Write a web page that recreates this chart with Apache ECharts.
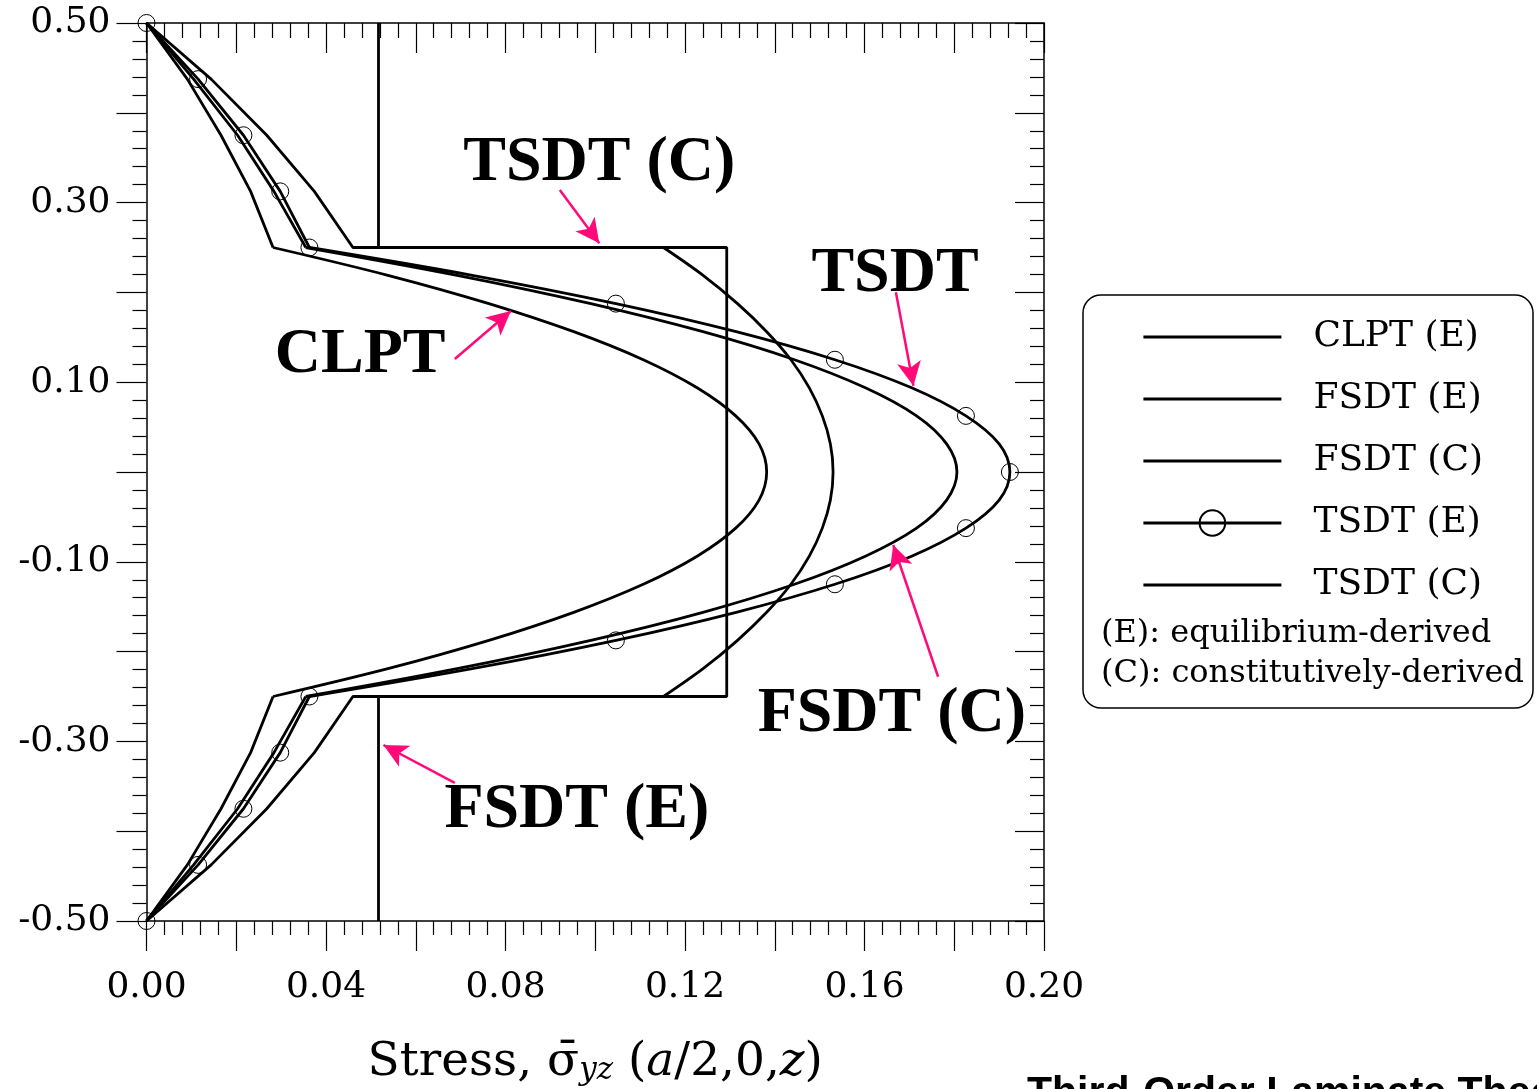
<!DOCTYPE html>
<html>
<head>
<meta charset="utf-8">
<script src="https://cdn.jsdelivr.net/npm/echarts@6/dist/echarts.min.js"></script>
<style>
html, body { margin: 0; padding: 0; background: #fff; }
#chart { width: 1537px; height: 1089px; }
</style>
</head>
<body>
<div id="chart"></div>
<script>
// thickness coordinate z: outer plies drawn as polylines, inner ply smooth
var zOuterTop = [0.5, 0.4375, 0.375, 0.3125, 0.25];
var zInner = [0.25, 0.21875, 0.1875, 0.15625, 0.125, 0.09375, 0.0625, 0.03125, 0,
  -0.03125, -0.0625, -0.09375, -0.125, -0.15625, -0.1875, -0.21875, -0.25];
var zOuterBot = [-0.25, -0.3125, -0.375, -0.4375, -0.5];

// CLPT (E)
var clptTop = [0, 0.0091, 0.0166, 0.0232, 0.0282];
var clptInner = [0.0282, 0.0540, 0.0763, 0.0952, 0.1107, 0.1227, 0.1313, 0.1365, 0.1382,
  0.1365, 0.1313, 0.1227, 0.1107, 0.0952, 0.0763, 0.0540, 0.0282];
var clptBot = [0.0282, 0.0232, 0.0166, 0.0091, 0];

// FSDT (E)
var fsdtETop = [0, 0.0105, 0.0203, 0.0284, 0.0355];
var fsdtEInner = [0.0355, 0.0695, 0.0990, 0.1240, 0.1444, 0.1602, 0.1716, 0.1783, 0.1806,
  0.1783, 0.1716, 0.1602, 0.1444, 0.1240, 0.0990, 0.0695, 0.0355];
var fsdtEBot = [0.0355, 0.0284, 0.0203, 0.0105, 0];

// FSDT (C) - piecewise constant
var zFsdtC = [0.5, 0.25, 0.25, -0.25, -0.25, -0.5];
var fsdtC = [0.0517, 0.0517, 0.1293, 0.1293, 0.0517, 0.0517];

// TSDT (E)
var tsdtETop = [0, 0.0115, 0.0216, 0.0298, 0.0363];
var tsdtEInner = [0.0363, 0.0729, 0.1046, 0.1314, 0.1534, 0.1705, 0.1826, 0.1900, 0.1924,
  0.1900, 0.1826, 0.1705, 0.1534, 0.1314, 0.1046, 0.0729, 0.0363];
var tsdtEBot = [0.0363, 0.0298, 0.0216, 0.0115, 0];

// TSDT (C)
var tsdtCTop = [0, 0.0144, 0.0268, 0.0374, 0.0460];
var tsdtCInner = [0.1152, 0.1241, 0.1317, 0.1382, 0.1436, 0.1477, 0.1506, 0.1524, 0.1530,
  0.1524, 0.1506, 0.1477, 0.1436, 0.1382, 0.1317, 0.1241, 0.1152];
var tsdtCBot = [0.0460, 0.0374, 0.0268, 0.0144, 0];

var legendNames = ['CLPT (E)', 'FSDT (E)', 'FSDT (C)', 'TSDT (E)', 'TSDT (C)'];
var legendMarked = ['TSDT (E)'];

// annotations (data coordinates)
var noteLabels = ['TSDT (C)', 'TSDT', 'CLPT', 'FSDT (C)', 'FSDT (E)'];
var noteX = [0.1009, 0.1668, 0.0476, 0.1661, 0.0959];
var noteZ = [0.3440, 0.2200, 0.1300, -0.2700, -0.3770];
var arrowFrom = [[0.0921, 0.314], [0.1670, 0.2001], [0.0687, 0.1258], [0.1764, -0.2280], [0.0687, -0.3463]];
var arrowTo = [[0.1009, 0.2547], [0.1709, 0.0961], [0.0812, 0.1793], [0.1664, -0.0813], [0.0528, -0.3040]];

var SERIF = 'DejaVu Serif';
var PINK = '#ff0a78';
var LW = 2.8;

function pairs(xs, zs) {
  return xs.map(function (x, i) { return [x, zs[i]]; });
}

function curve(name, top, inner, bot, marked) {
  var base = {
    type: 'line',
    name: name,
    symbol: marked ? 'circle' : 'none',
    symbolSize: 17,
    clip: false,
    lineStyle: { color: '#000', width: LW },
    itemStyle: { color: 'rgba(0,0,0,0)', borderColor: '#000', borderWidth: 1 },
    emphasis: { disabled: true },
    silent: true
  };
  var topData = pairs(top, zOuterTop).map(function (p) {
    return { value: p, symbol: marked ? 'circle' : 'none' };
  });
  topData.push({ value: [inner[0], zInner[0]], symbol: 'none' });

  var innerData = pairs(inner, zInner).map(function (p, i) {
    var mark = marked && i % 2 === 0 && i > 0 && i < zInner.length - 1;
    return { value: p, symbol: mark ? 'circle' : 'none' };
  });

  var botData = [{ value: [inner[inner.length - 1], zInner[zInner.length - 1]], symbol: 'none' }];
  pairs(bot, zOuterBot).forEach(function (p) {
    botData.push({ value: p, symbol: marked ? 'circle' : 'none' });
  });

  return [
    Object.assign({}, base, { data: topData }),
    Object.assign({}, base, { data: innerData, smooth: 0.35 }),
    Object.assign({}, base, { data: botData })
  ];
}

var series = []
  .concat(curve('CLPT (E)', clptTop, clptInner, clptBot, false))
  .concat(curve('FSDT (E)', fsdtETop, fsdtEInner, fsdtEBot, false))
  .concat([{
    type: 'line',
    name: 'FSDT (C)',
    symbol: 'none',
    lineStyle: { color: '#000', width: LW },
    itemStyle: { color: '#000' },
    data: pairs(fsdtC, zFsdtC),
    silent: true,
    markLine: {
      silent: true,
      symbol: ['none', 'arrow'],
      symbolSize: [18, 24],
      lineStyle: { color: PINK, width: 2.5, type: 'solid' },
      label: { show: false },
      emphasis: { disabled: true },
      data: arrowFrom.map(function (a, i) {
        return [{ coord: a }, { coord: arrowTo[i] }];
      })
    }
  }])
  .concat(curve('TSDT (E)', tsdtETop, tsdtEInner, tsdtEBot, true))
  .concat(curve('TSDT (C)', tsdtCTop, tsdtCInner, tsdtCBot, false))
  .concat([{
    type: 'scatter',
    name: 'notes',
    symbolSize: 0,
    silent: true,
    z: 5,
    itemStyle: { opacity: 1 },
    data: noteLabels.map(function (t, i) { return [noteX[i], noteZ[i], t]; }),
    label: {
      show: true,
      position: 'inside',
      formatter: function (p) { return p.data[2]; },
      fontFamily: 'Liberation Serif',
      fontWeight: 'bold',
      fontSize: 64,
      color: '#000',
      opacity: 1,
      textBorderWidth: 0
    }
  }]);

var tickStyle = { color: '#000', width: 1.2 };
var axisLineStyle = { color: '#000', width: 1.5 };

var option = {
  animation: false,
  backgroundColor: '#fff',
  grid: { left: 146.5, right: 493, top: 23, bottom: 168, containLabel: false, outerBoundsMode: 'none' },
  legend: {
    data: legendNames.map(function (n) {
      return legendMarked.indexOf(n) >= 0 ? { name: n } : { name: n, itemStyle: { opacity: 0 } };
    }),
    orient: 'vertical',
    left: 1142,
    top: 319,
    padding: 0,
    itemWidth: 138,
    itemHeight: 32,
    itemGap: 26,
    selectedMode: false,
    lineStyle: { width: LW, color: '#000' },
    textStyle: { fontFamily: SERIF, fontSize: 36, color: '#000', lineHeight: 32, padding: [0, 0, 0, 27] }
  },
  xAxis: [{
    type: 'value', min: 0, max: 0.2, interval: 0.02, position: 'bottom',
    axisLine: { onZero: false, lineStyle: axisLineStyle },
    axisTick: { inside: false, length: 30, lineStyle: tickStyle },
    minorTick: { show: true, splitNumber: 5, length: 14, lineStyle: tickStyle },
    splitLine: { show: false },
    axisLabel: {
      margin: 49, fontFamily: SERIF, fontSize: 36, color: '#000',
      formatter: function (v) { return Math.round(v * 100) % 4 === 0 ? v.toFixed(2) : ''; }
    },
    name: '{n|Stress, σ\u0304}{s|yz}{n| (}{i|a}{n|/2,0,}{i|z}{n|)}',
    nameLocation: 'middle',
    nameGap: 110,
    nameTextStyle: {
      rich: {
        n: { fontFamily: SERIF, fontSize: 47, color: '#000', lineHeight: 64 },
        i: { fontFamily: SERIF, fontSize: 47, fontStyle: 'italic', color: '#000', lineHeight: 64 },
        s: { fontFamily: SERIF, fontSize: 31, fontStyle: 'italic', color: '#000', padding: [16, 0, 0, 0] }
      }
    }
  }, {
    type: 'value', min: 0, max: 0.2, interval: 0.02, position: 'top',
    axisLine: { onZero: false, lineStyle: axisLineStyle },
    axisTick: { inside: true, length: 30, lineStyle: tickStyle },
    minorTick: { show: true, splitNumber: 5, length: 15, lineStyle: tickStyle },
    splitLine: { show: false },
    axisLabel: { show: false }
  }],
  yAxis: [{
    type: 'value', min: -0.5, max: 0.5, interval: 0.1, position: 'left',
    axisLine: { onZero: false, lineStyle: axisLineStyle },
    axisTick: { inside: false, length: 30, lineStyle: tickStyle },
    minorTick: { show: true, splitNumber: 5, length: 14, lineStyle: tickStyle },
    splitLine: { show: false },
    axisLabel: {
      margin: 36, fontFamily: SERIF, fontSize: 36, color: '#000',
      formatter: function (v) { return Math.abs(Math.round(v * 10)) % 2 === 1 ? v.toFixed(2) : ''; }
    }
  }, {
    type: 'value', min: -0.5, max: 0.5, interval: 0.1, position: 'right',
    axisLine: { onZero: false, lineStyle: axisLineStyle },
    axisTick: { inside: true, length: 29, lineStyle: tickStyle },
    minorTick: { show: true, splitNumber: 5, length: 14, lineStyle: tickStyle },
    splitLine: { show: false },
    axisLabel: { show: false }
  }],
  graphic: [
    {
      type: 'rect', z: 1,
      shape: { x: 1083, y: 295, width: 450, height: 413, r: 18 },
      style: { fill: '#fff', stroke: '#000', lineWidth: 1.5 }
    },
    {
      type: 'text', z: 2, x: 1101, y: 634,
      style: { text: '(E): equilibrium-derived', font: '32px "DejaVu Serif"', fill: '#000', verticalAlign: 'middle' }
    },
    {
      type: 'text', z: 2, x: 1101, y: 674,
      style: { text: '(C): constitutively-derived', font: '32px "DejaVu Serif"', fill: '#000', verticalAlign: 'middle' }
    },
    {
      type: 'text', z: 2, x: 1027, y: 1073,
      style: { text: 'Third-Order Laminate Theory', font: 'bold 41px "Liberation Sans"', fill: '#000', verticalAlign: 'top' }
    }
  ],
  series: series
};

var chart = echarts.init(document.getElementById('chart'), null, { renderer: 'canvas' });
chart.setOption(option);
</script>
</body>
</html>
